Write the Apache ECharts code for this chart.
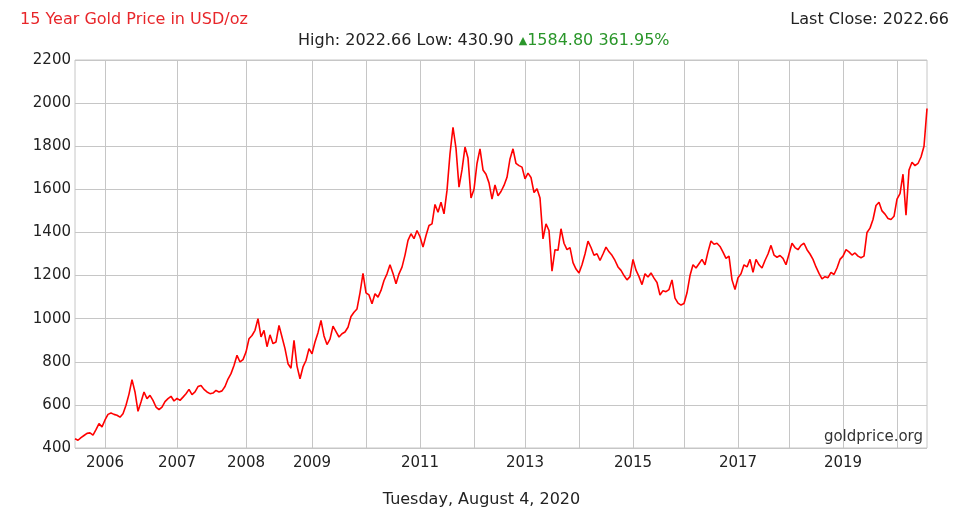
<!DOCTYPE html>
<html>
<head>
<meta charset="utf-8">
<script src="https://cdn.jsdelivr.net/npm/echarts@6/dist/echarts.min.js"></script>
<style>
html,body{margin:0;padding:0;background:#fff;}
#chart{width:963px;height:512px;}
</style>
</head>
<body>
<div id="chart"></div>
<script>
// Gold price (USD/oz), sampled points per calendar year (Aug 2005 - Aug 2020)
const p2005 = [443, 436, 448, 458, 468, 470, 460, 485, 513, 498];
const p2006 = [530, 556, 562, 556, 552, 543, 559, 598, 650, 717, 660, 570, 613, 660, 629, 644, 621, 590, 578, 590, 615, 629, 640, 618];
const p2007 = [630, 621, 636, 652, 672, 648, 660, 685, 690, 672, 660, 652, 655, 667, 660, 665, 685, 720, 745, 783, 830, 799, 810];
const p2008 = [845, 907, 922, 946, 1000, 915, 946, 870, 925, 884, 892, 969, 915, 861, 791, 770, 899, 780, 721, 776, 806, 861];
const p2009 = [837, 892, 935, 992, 920, 880, 905, 965, 940, 915, 930, 938, 960, 1010, 1030, 1045, 1120, 1210];
const p2010 = [1120, 1110, 1069, 1116, 1100, 1131, 1177, 1208, 1250, 1210, 1162, 1208, 1239, 1295, 1363, 1394, 1371, 1409];
const p2011 = [1380, 1332, 1386, 1432, 1440, 1530, 1494, 1540, 1486, 1595, 1765, 1888, 1790, 1610, 1690, 1796, 1745, 1560];
const p2012 = [1600, 1720, 1788, 1690, 1670, 1630, 1555, 1620, 1570, 1590, 1618, 1656, 1741, 1788, 1720, 1710, 1703];
const p2013 = [1649, 1675, 1655, 1585, 1603, 1560, 1370, 1440, 1409, 1220, 1320, 1317, 1417, 1350, 1320, 1330, 1260, 1230];
const p2014 = [1212, 1250, 1300, 1360, 1330, 1294, 1301, 1270, 1300, 1332, 1310, 1294, 1270, 1240, 1224, 1200, 1180, 1195];
const p2015 = [1275, 1225, 1195, 1158, 1208, 1193, 1212, 1188, 1168, 1110, 1130, 1125, 1135, 1180, 1095, 1072, 1063];
const p2016 = [1070, 1120, 1200, 1250, 1235, 1255, 1275, 1250, 1310, 1360, 1345, 1350, 1335, 1309, 1280, 1290, 1180, 1135];
const p2017 = [1190, 1208, 1250, 1240, 1275, 1215, 1275, 1250, 1235, 1270, 1300, 1340, 1295, 1285, 1293, 1280, 1250];
const p2018 = [1300, 1350, 1330, 1320, 1340, 1350, 1320, 1300, 1275, 1240, 1210, 1185, 1195, 1190, 1215, 1205, 1235, 1275];
const p2019 = [1290, 1320, 1310, 1295, 1305, 1290, 1283, 1290, 1400, 1420, 1460, 1525, 1540, 1500, 1485, 1465, 1460, 1475];
const p2020 = [1555, 1580, 1670, 1480, 1690, 1726, 1710, 1720, 1750, 1800, 1975];

const years = [2005, 2006, 2007, 2008, 2009, 2010, 2011, 2012, 2013, 2014, 2015, 2016, 2017, 2018, 2019, 2020];
const yearData = [p2005, p2006, p2007, p2008, p2009, p2010, p2011, p2012, p2013, p2014, p2015, p2016, p2017, p2018, p2019, p2020];
const labelYears = [2006, 2007, 2008, 2009, 2011, 2013, 2015, 2017, 2019];
const yTicks = {min: 400, max: 2200, interval: 200};

const titleText = '15 Year Gold Price in USD/oz';
const lastCloseText = 'Last Close: 2022.66';
const highLowText = 'High: 2022.66 Low: 430.90 ';
const changeText = '1584.80 361.95%';
const dateText = 'Tuesday, August 4, 2020';
const sourceText = 'goldprice.org';

const categories = [];
const values = [];
const yearStartIdx = new Set();
const labelIdx = new Set();
years.forEach((y, k) => {
  yearData[k].forEach((v, j) => {
    if (j === 0 && k > 0) {
      yearStartIdx.add(categories.length);
      if (labelYears.includes(y)) labelIdx.add(categories.length);
    }
    categories.push(y + '-' + j);
    values.push(v);
  });
});

const FONT = 'DejaVu Sans';
const chart = echarts.init(document.getElementById('chart'), null, {renderer: 'canvas'});
chart.setOption({
  animation: false,
  backgroundColor: '#ffffff',
  title: [
    {text: titleText, left: 20, top: 12, padding: 0,
     textStyle: {color: '#e8262a', fontSize: 16, fontWeight: 'normal', fontFamily: FONT}},
    {text: lastCloseText, right: 14, top: 12, padding: 0,
     textStyle: {color: '#222', fontSize: 16, fontWeight: 'normal', fontFamily: FONT}},
    {text: '{a|' + highLowText + '}{t|▲}{b|' + changeText + '}', left: 298, top: 33, padding: 0,
     textStyle: {fontFamily: FONT, fontWeight: 'normal', rich: {
       a: {color: '#222', fontSize: 16, fontFamily: FONT, fontWeight: 'normal'},
       t: {color: '#2a962a', fontSize: 11, fontFamily: FONT, fontWeight: 'normal'},
       b: {color: '#2a962a', fontSize: 16, fontFamily: FONT, fontWeight: 'normal'}
     }}},
    {text: dateText, left: 'center', top: 492, padding: 0,
     textStyle: {color: '#222', fontSize: 16, fontWeight: 'normal', fontFamily: FONT}},
    {text: sourceText, right: 40, top: 430, padding: 0,
     textStyle: {color: '#333', fontSize: 15, fontWeight: 'normal', fontFamily: FONT}}
  ],
  grid: {left: 75, right: 36, top: 60, bottom: 64, show: true, borderColor: '#c6c6c6', borderWidth: 1, containLabel: false},
  xAxis: {
    type: 'category',
    data: categories,
    boundaryGap: false,
    axisLine: {show: false},
    axisTick: {show: false},
    axisLabel: {
      interval: (i) => labelIdx.has(i),
      formatter: (v) => v.split('-')[0],
      color: '#222', fontSize: 15, fontFamily: FONT, margin: 8, hideOverlap: false
    },
    splitLine: {show: true, interval: (i) => yearStartIdx.has(i), lineStyle: {color: '#c6c6c6', width: 1}}
  },
  yAxis: {
    type: 'value',
    min: yTicks.min, max: yTicks.max, interval: yTicks.interval,
    axisLine: {show: false},
    axisTick: {show: false},
    axisLabel: {color: '#222', fontSize: 15, fontFamily: FONT, margin: 4, formatter: (v) => String(v)},
    splitLine: {show: true, lineStyle: {color: '#c6c6c6', width: 1}}
  },
  series: [{
    type: 'line',
    data: values,
    showSymbol: false,
    symbol: 'none',
    lineStyle: {color: '#ff0000', width: 1.6},
    z: 3
  }]
});
</script>
</body>
</html>
